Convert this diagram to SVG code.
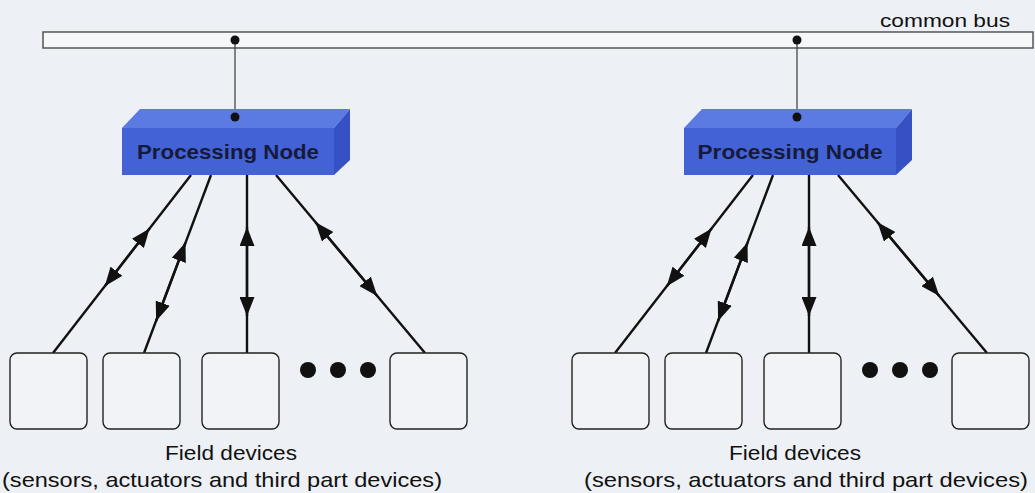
<svg xmlns="http://www.w3.org/2000/svg" width="1035" height="493" viewBox="0 0 1035 493">
  <style>
    .bg { fill: #edf0f5; }
    .bus { fill: #f6f7f9; stroke: #4a4a4a; stroke-width: 1.4; }
    .drop { stroke: #3a3a3a; stroke-width: 1.2; fill: none; }
    .tap { fill: #111; }
    .front { fill: #4262d6; }
    .top { fill: #5c7be2; }
    .side { fill: #3651c4; }
    .pn-label { font-family: "Liberation Sans", Arial, sans-serif; font-weight: bold; font-size: 21px; fill: #151a3a; text-anchor: middle; }
    .link { stroke: #111; stroke-width: 2.4; fill: none; }
    .arrow { marker-end: url(#head); }
    .dev { fill: #f1f3f7; stroke: #222; stroke-width: 1.4; }
    .more { fill: #111; }
    .caption { font-family: "Liberation Sans", Arial, sans-serif; font-size: 21px; fill: #111; text-anchor: middle; }
    .bus-label { font-family: "Liberation Sans", Arial, sans-serif; font-size: 19px; fill: #111; text-anchor: end; }
  </style>
  <defs>
    <marker id="head" markerUnits="userSpaceOnUse" markerWidth="19" markerHeight="15" viewBox="0 0 19 15" refX="19" refY="7.5" orient="auto">
      <path d="M0,0 L19,7.5 L0,15 Z" fill="#111"/>
    </marker>
  </defs>

  <rect class="bg" x="0" y="0" width="1035" height="493"/>

  <!-- shared bus -->
  <g id="common-bus">
    <rect class="bus" x="43" y="32" width="990" height="16"/>
    <text class="bus-label" x="1010" y="27" textLength="130" lengthAdjust="spacingAndGlyphs">common bus</text>
  </g>

  <!-- connectors: bus taps and node-to-device links -->
  <g id="connectors">
    <line class="drop" x1="235" y1="40" x2="235" y2="117"/>
    <line class="drop" x1="797" y1="40" x2="797" y2="117"/>

    <!-- left node links -->
    <path class="link arrow" d="M53,353 L149.6,228.4"/>
    <path class="link arrow" d="M191,175 L104.8,286.3"/>
    <path class="link arrow" d="M144,353 L185.5,242.6"/>
    <path class="link arrow" d="M211,175 L156.1,321"/>
    <path class="link arrow" d="M247,353 L247,227"/>
    <path class="link arrow" d="M247,175 L247,316"/>
    <path class="link arrow" d="M425,353 L315.5,222.2"/>
    <path class="link arrow" d="M276,175 L377.3,296"/>

    <!-- right node links -->
    <path class="link arrow" d="M615,353 L711.6,228.4"/>
    <path class="link arrow" d="M753,175 L666.8,286.3"/>
    <path class="link arrow" d="M706,353 L747.5,242.6"/>
    <path class="link arrow" d="M773,175 L718.1,321"/>
    <path class="link arrow" d="M809,353 L809,227"/>
    <path class="link arrow" d="M809,175 L809,316"/>
    <path class="link arrow" d="M987,353 L877.5,222.2"/>
    <path class="link arrow" d="M838,175 L939.3,296"/>

    <circle class="tap" cx="235" cy="40" r="4.5"/>
    <circle class="tap" cx="797" cy="40" r="4.5"/>
  </g>

  <!-- processing nodes -->
  <g id="node-left">
    <polygon class="top" points="122,128 140,109 350,109 334,128"/>
    <polygon class="side" points="334,128 350,109 350,160 334,175"/>
    <rect class="front" x="122" y="128" width="212" height="47"/>
    <circle class="tap" cx="235" cy="117" r="4.5"/>
    <text class="pn-label" x="228" y="159" textLength="182" lengthAdjust="spacingAndGlyphs">Processing Node</text>
  </g>
  <g id="node-right">
    <polygon class="top" points="684,128 702,109 912,109 896,128"/>
    <polygon class="side" points="896,128 912,109 912,160 896,175"/>
    <rect class="front" x="684" y="128" width="212" height="47"/>
    <circle class="tap" cx="797" cy="117" r="4.5"/>
    <text class="pn-label" x="790" y="159" textLength="185" lengthAdjust="spacingAndGlyphs">Processing Node</text>
  </g>

  <!-- field devices, left group -->
  <g id="devices-left">
    <rect class="dev" x="10" y="353" width="77" height="76" rx="7"/>
    <rect class="dev" x="103" y="353" width="77" height="76" rx="7"/>
    <rect class="dev" x="202" y="353" width="77" height="76" rx="7"/>
    <circle class="more" cx="308" cy="370" r="8"/>
    <circle class="more" cx="338" cy="370" r="8"/>
    <circle class="more" cx="368" cy="370" r="8"/>
    <rect class="dev" x="390" y="353" width="77" height="76" rx="7"/>
    <text class="caption" x="231" y="460" textLength="132" lengthAdjust="spacingAndGlyphs">Field devices</text>
    <text class="caption" x="222" y="487" textLength="440" lengthAdjust="spacingAndGlyphs">(sensors, actuators and third part devices)</text>
  </g>

  <!-- field devices, right group -->
  <g id="devices-right">
    <rect class="dev" x="572" y="353" width="77" height="76" rx="7"/>
    <rect class="dev" x="665" y="353" width="77" height="76" rx="7"/>
    <rect class="dev" x="764" y="353" width="77" height="76" rx="7"/>
    <circle class="more" cx="870" cy="370" r="8"/>
    <circle class="more" cx="900" cy="370" r="8"/>
    <circle class="more" cx="930" cy="370" r="8"/>
    <rect class="dev" x="952" y="353" width="77" height="76" rx="7"/>
    <text class="caption" x="795" y="460" textLength="132" lengthAdjust="spacingAndGlyphs">Field devices</text>
    <text class="caption" x="806" y="487" textLength="444" lengthAdjust="spacingAndGlyphs">(sensors, actuators and third part devices)</text>
  </g>
</svg>
